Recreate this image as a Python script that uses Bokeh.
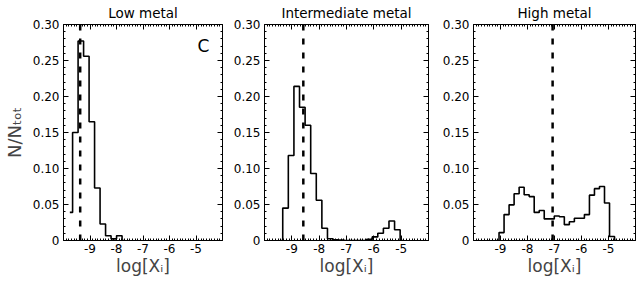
from bokeh.plotting import figure
from bokeh.layouts import row
from bokeh.models import Span, Label, LinearAxis, FixedTicker, Range1d, CustomJSTickFormatter
from bokeh.embed import file_html
from bokeh.resources import INLINE

# ---------------- data ----------------
titles = ["Low metal", "Intermediate metal", "High metal"]

# bin centres (log X_i) and fractions N/N_tot
low_x = [-9.761, -9.553, -9.346, -9.138, -8.931, -8.724, -8.516, -8.309, -8.101, -7.894, -7.686]
low_y = [0.039, 0.150, 0.277, 0.256, 0.165, 0.073, 0.023, 0.0065, 0.0023, 0.0065, 0.0]

mid_x = [-9.435, -9.231, -9.026, -8.821, -8.617, -8.412, -8.208, -8.003, -7.799, -7.594, -7.389,
         -7.185, -6.980, -6.776, -6.571, -6.367, -6.162, -5.957, -5.753, -5.548, -5.344,
         -5.139, -4.935]
mid_y = [0.0, 0.045, 0.118, 0.214, 0.185, 0.160, 0.093, 0.056, 0.017, 0.0025, 0.001,
         0.0005, 0.0, 0.0, 0.0, 0.0, 0.0015, 0.005, 0.010, 0.017, 0.027,
         0.015, 0.0]

high_x = [-9.147, -8.961, -8.775, -8.589, -8.403, -8.217, -8.031, -7.845, -7.659, -7.473, -7.287,
          -7.101, -6.915, -6.729, -6.543, -6.357, -6.171, -5.985, -5.799, -5.613, -5.427,
          -5.241, -5.055, -4.869, -4.683]
high_y = [0.0, 0.011, 0.036, 0.0495, 0.065, 0.074, 0.0635, 0.061, 0.039, 0.0416, 0.030,
          0.030, 0.034, 0.033, 0.022, 0.026, 0.031, 0.031, 0.036, 0.063, 0.072,
          0.075, 0.052, 0.0056, 0.0]

median_x = [-9.37, -8.58, -7.07]

x_ticks = [-9, -8, -7, -6, -5]
x_tick_labels = ["-9", "-8", "-7", "-6", "-5"]
x_minor = [round(-10 + 0.1 * i, 1) for i in range(61)]
y_ticks = [0, 0.05, 0.10, 0.15, 0.20, 0.25, 0.30]
y_tick_labels = ["0", "0.05", "0.10", "0.15", "0.20", "0.25", "0.30"]
y_minor = [round(0.01 * i, 2) for i in range(31)]

xs = [low_x, mid_x, high_x]
ys = [low_y, mid_y, high_y]

FONT = "DejaVu Sans"
X_MIN, X_MAX = -10, -4
Y_MIN, Y_MAX = 0, 0.30

# layout: (figure width, left border, right border)
geom = [(226, 59, 4), (206, 38, 4), (205, 41, 2)]


def style_axis(ax, ticks, minor, labels, show_labels):
    ax.ticker = FixedTicker(ticks=ticks, minor_ticks=minor)
    ax.axis_line_color = None
    ax.major_tick_in = 5
    ax.major_tick_out = 0
    ax.minor_tick_in = 2
    ax.minor_tick_out = 0
    ax.major_tick_line_color = "black"
    ax.minor_tick_line_color = "black"
    if show_labels:
        ax.major_label_overrides = {t: l for t, l in zip(ticks, labels)}
        ax.major_label_text_font = FONT
        ax.major_label_text_font_size = "12px"
        ax.major_label_text_color = "black"
        ax.major_label_standoff = 4
    else:
        ax.formatter = CustomJSTickFormatter(code="return ''")
        ax.major_label_text_font_size = "1px"
        ax.major_label_standoff = 0


panels = []
for i in range(3):
    w, bl, br = geom[i]
    p = figure(width=w, height=283, x_range=Range1d(X_MIN, X_MAX), y_range=Range1d(Y_MIN, Y_MAX),
               output_backend="svg", toolbar_location=None,
               min_border_left=bl, min_border_right=br, min_border_top=24, min_border_bottom=43)
    p.xgrid.visible = False
    p.ygrid.visible = False
    p.outline_line_color = "black"
    p.outline_line_alpha = 1.0
    p.outline_line_width = 1
    p.background_fill_color = "white"
    p.border_fill_color = "white"

    p.title.text = titles[i]
    p.title.align = "center"
    p.title.vertical_align = "top"
    p.title.text_font = FONT
    p.title.text_font_size = "13.5px"
    p.title.text_font_style = "normal"
    p.title.text_color = "black"
    p.title.standoff = 4

    style_axis(p.xaxis[0], x_ticks, x_minor, x_tick_labels, True)
    style_axis(p.yaxis[0], y_ticks, y_minor, y_tick_labels, True)
    p.xaxis[0].major_label_standoff = 3
    p.xaxis[0].axis_label = "log[Xᵢ]"
    p.xaxis[0].axis_label_text_font = FONT
    p.xaxis[0].axis_label_text_font_size = "17px"
    p.xaxis[0].axis_label_text_font_style = "normal"
    p.xaxis[0].axis_label_standoff = 0
    if i == 0:
        p.yaxis[0].axis_label = "N/Nₜₒₜ"
        p.yaxis[0].axis_label_text_font = FONT
        p.yaxis[0].axis_label_text_font_size = "18px"
        p.yaxis[0].axis_label_text_font_style = "normal"
        p.yaxis[0].axis_label_standoff = 5

    top = LinearAxis()
    style_axis(top, x_ticks, x_minor, x_tick_labels, False)
    p.add_layout(top, "above")
    right = LinearAxis()
    style_axis(right, y_ticks, y_minor, y_tick_labels, False)
    p.add_layout(right, "right")

    p.step(xs[i], ys[i], mode="center", line_color="black", line_width=1.6)
    p.add_layout(Span(location=median_x[i], dimension="height", line_color="black",
                      line_width=2.5, line_dash="6 8"))
    if i == 0:
        p.add_layout(Label(x=-4.72, y=0.270, text="C", text_font=FONT, text_font_size="17px",
                           text_align="center", text_baseline="middle", text_color="black"))
    panels.append(p)

layout = row(*panels)
open("out.html", "w").write(file_html(layout, INLINE))
